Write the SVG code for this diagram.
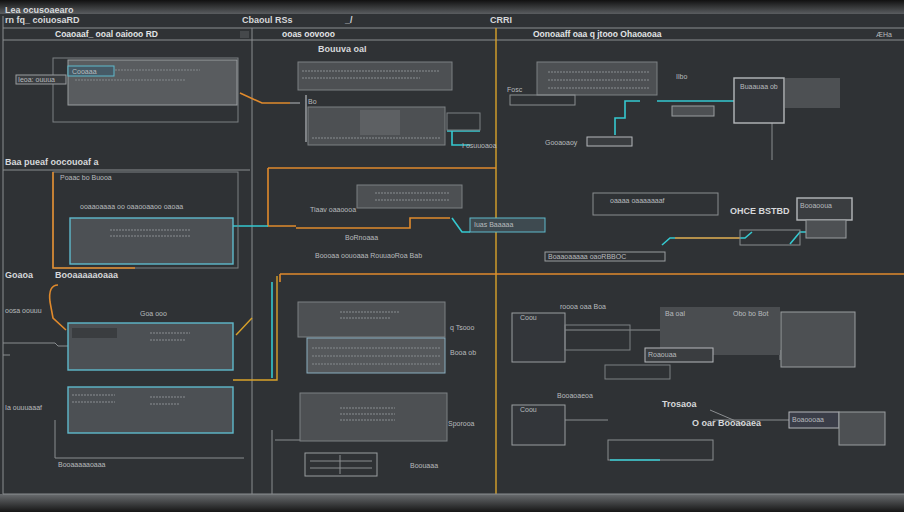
<svg xmlns="http://www.w3.org/2000/svg" width="904" height="512" viewBox="0 0 904 512">
<defs>
<style>
.bg{fill:#2f3235}
.ln{stroke:#8a8d90;stroke-width:1;fill:none}
.ln2{stroke:#b5b8bb;stroke-width:1.2;fill:none}
.fl{fill:#4d5053;stroke:#7d8083;stroke-width:1}
.fl2{fill:#595c5f;stroke:#9a9da0;stroke-width:1}
.cy{stroke:#35c9d0;stroke-width:1.6;fill:none}
.or{stroke:#e08a2c;stroke-width:1.6;fill:none}
.ye{stroke:#d9a22a;stroke-width:1.4;fill:none}
.cbox{fill:#4c5054;stroke:#5fb9cc;stroke-width:1.4}
.tx{stroke:#767a7e;stroke-width:1.5;stroke-dasharray:2 1;fill:none}
.t{font-family:"Liberation Sans",Arial,sans-serif;font-size:9px;fill:#d6d8da;font-weight:bold}
.ts{font-family:"Liberation Sans",Arial,sans-serif;font-size:7px;fill:#b8bbbe}
.th{font-family:"Liberation Sans",Arial,sans-serif;font-size:8.5px;fill:#e2e4e6;font-weight:bold}
</style>
<linearGradient id="g1" x1="0" x2="1" y1="0" y2="0">
<stop offset="0" stop-color="#e08a2c"/><stop offset="0.5" stop-color="#d9a22a"/><stop offset="0.8" stop-color="#3fb0c0"/><stop offset="1" stop-color="#35d0c8"/>
</linearGradient>
<linearGradient id="gt" x1="0" x2="0" y1="0" y2="1">
<stop offset="0" stop-color="#111"/><stop offset="1" stop-color="#5a5d60"/>
</linearGradient>
<linearGradient id="gb" x1="0" x2="0" y1="0" y2="1">
<stop offset="0" stop-color="#6a6d70"/><stop offset="1" stop-color="#161616"/>
</linearGradient>
</defs>
<rect class="bg" x="0" y="0" width="904" height="512"/>
<rect x="0" y="0" width="904" height="14" fill="url(#gt)"/>
<rect x="0" y="494" width="904" height="18" fill="url(#gb)"/>

<g id="frame">
<path class="ln" d="M3 16V494M252 28V494M3 28H904M3 40H904"/>
<path class="ye" d="M496 28V494"/>
<path class="ln" d="M3 170H250"/>
<path class="ln" d="M3 494H904"/>
<rect x="240" y="31" width="9" height="7" fill="#45484b"/>
<text class="t" x="5" y="13">Lea ocusoaearo</text>
<text class="t" x="5" y="23">rn fq_ coiuosaRD</text>
<text class="t" x="242" y="23">Cbaoul RSs</text>
<text class="t" x="345" y="23">_/</text>
<text class="t" x="490" y="23">CRRI</text>
<text class="th" x="55" y="37">Coaoaaf_ ooal oaiooo RD</text>
<text class="th" x="282" y="37">ooas oovooo</text>
<text class="th" x="533" y="37">Oonoaaff oaa q jtooo Ohaoaoaa</text>
<text class="ts" x="876" y="37">ÆHa</text>
</g>

<g id="connectors">
<path class="or" d="M240 93L262 103H290"/>
<path class="ln2" d="M290 103H300M306 95V142"/>
<path class="cy" d="M447 131H480M452 131V145H470"/>
<path class="cy" d="M657 101H734"/>
<path class="cy" d="M640 101H625V118H615V135"/>
<path class="ln" d="M772 123V160"/>
<path d="M270 163H904" stroke="url(#g1)" stroke-width="2" fill="none"/>
<path class="or" d="M268 168H496"/>
<path class="or" d="M268 168V226H296"/>
<path class="or" d="M296 228H410V218H450"/>
<path class="cy" d="M233 226H268"/>
<path class="cy" d="M452 218L462 232H470"/>
<path class="cy" d="M662 245L670 238H745L752 232"/>
<path class="or" d="M675 238H740"/>
<path class="cy" d="M790 244L800 232H815"/>
<path class="or" d="M280 274H904"/>
<path class="or" d="M280 274V282"/>
<path class="ye" d="M277 276V380H233"/>
<path class="cy" d="M272 282V378"/>
<path class="or" d="M58 285Q48 285 50 302L53 318L66 330"/>
<path class="ye" d="M236 335L252 318"/>
<path class="ln" d="M3 343H55L58 346H68M3 355H10"/>
<path class="ln" d="M55 420V458H244"/>
<path class="ln" d="M275 440H300M272 430V494"/>
<path class="ln" d="M377 340V338M308 333H445"/>
<path class="ln" d="M565 330H660M565 420H608M713 420H789M780 350V360"/>
<path class="ln" d="M710 410L745 425"/>
</g>

<g id="n1">
<rect x="53" y="58" width="185" height="64" fill="none" stroke="#7d8083"/>
<rect x="68" y="60" width="169" height="45" class="fl2"/>
<path class="tx" d="M115 70H200M75 80H185"/>
<rect x="68" y="66" width="46" height="10" fill="#465a66" stroke="#5fb9cc"/>
<text class="ts" x="72" y="74">Cooaaa</text>
<rect x="16" y="75" width="50" height="9" fill="#3a3d40" stroke="#9a9da0"/>
<text class="ts" x="18" y="82">Ieoa: ouuua</text>
</g>

<g id="n2">
<text class="t" x="318" y="52">Bouuva oaI</text>
<rect x="298" y="62" width="154" height="28" class="fl"/>
<path class="tx" d="M302 71H440M302 78H420"/>
<rect x="308" y="107" width="137" height="38" class="fl"/>
<rect x="360" y="110" width="40" height="25" fill="#5d6063"/>
<path class="tx" d="M312 138H440"/>
<rect x="447" y="113" width="33" height="17" fill="none" stroke="#7d8083"/>
<text class="ts" x="308" y="104">Bo</text>
<text class="ts" x="462" y="148">I osuuoaoa</text>
</g>

<g id="n3">
<rect x="537" y="62" width="120" height="33" class="fl"/>
<path class="tx" d="M548 72H650M548 80H650M548 88H650"/>
<rect x="510" y="95" width="65" height="10" fill="none" stroke="#8a8d90"/>
<text class="ts" x="507" y="92">Fosc</text>
<text class="ts" x="676" y="79">Ilbo</text>
<rect x="734" y="78" width="50" height="45" fill="#33363a" stroke="#b5b8bb" stroke-width="1.4"/>
<text class="ts" x="740" y="89">Buaauaa ob</text>
<rect x="785" y="78" width="55" height="30" fill="#4d5053"/>
<rect x="672" y="106" width="42" height="10" fill="#4d5053" stroke="#9a9da0"/>
<rect x="587" y="137" width="45" height="9" fill="#3a3d40" stroke="#b5b8bb"/>
<text class="ts" x="545" y="145">Gooaoaoy</text>
</g>

<g id="n4">
<text class="t" x="5" y="165">Baa pueaf oocouoaf a</text>
<rect x="53" y="172" width="185" height="96" fill="none" stroke="#7d8083"/>
<path class="or" d="M53 172V268H135"/>
<text class="ts" x="60" y="180">Poaac bo Buooa</text>
<text class="ts" x="80" y="209">ooaaoaaaa oo oaaooaaoo oaoaa</text>
<rect x="70" y="218" width="163" height="46" class="cbox"/>
<path class="tx" d="M110 230H190M110 236H190"/>
</g>

<g id="n5">
<rect x="357" y="185" width="105" height="23" class="fl"/>
<path class="tx" d="M375 193H450M375 200H450"/>
<text class="ts" x="310" y="212">Tiaav oaaoooa</text>
<text class="ts" x="345" y="240">BoRnoaaa</text>
<text class="ts" x="315" y="258">Boooaa oouoaaa RouuaoRoa Bab</text>
<rect x="470" y="218" width="75" height="14" fill="#3e4a50" stroke="#5fb9cc"/>
<text class="ts" x="474" y="227">Iuas Baaaaa</text>
</g>

<g id="n6">
<rect x="593" y="193" width="125" height="22" fill="none" stroke="#8a8d90"/>
<text class="ts" x="610" y="203">oaaaa oaaaaaaaf</text>
<text class="t" x="730" y="214">OHCE BSTBD</text>
<rect x="797" y="198" width="55" height="22" fill="#3a3d40" stroke="#b5b8bb" stroke-width="1.4"/>
<text class="ts" x="800" y="208">Booaooua</text>
<rect x="806" y="220" width="40" height="18" fill="#4d5053" stroke="#9a9da0"/>
<rect x="545" y="252" width="120" height="9" fill="none" stroke="#9a9da0"/>
<text class="ts" x="548" y="259">Boaaoaaaaa oaoRBBOC</text>
<rect x="740" y="230" width="60" height="15" fill="none" stroke="#8a8d90"/>
</g>

<g id="n7">
<text class="t" x="5" y="278">Goaoa</text>
<text class="t" x="55" y="278">Booaaaaaoaaa</text>
<text class="ts" x="5" y="313">oosa oouuu</text>
<text class="ts" x="140" y="316">Goa ooo</text>
<rect x="68" y="323" width="165" height="47" class="cbox"/>
<rect x="72" y="328" width="45" height="10" fill="#3a3d40"/>
<path class="tx" d="M150 333H190M150 340H185"/>
<rect x="68" y="387" width="165" height="46" class="cbox"/>
<path class="tx" d="M72 395H115M150 397H185M72 402H115M150 404H180"/>
<text class="ts" x="5" y="410">Ia  ouuuaaaf</text>
<text class="ts" x="58" y="467">Booaaaaaoaaa</text>
</g>

<g id="n8">
<rect x="298" y="302" width="147" height="35" class="fl"/>
<path class="tx" d="M340 312H400M340 318H390"/>
<text class="ts" x="450" y="330">q Tsooo</text>
<rect x="307" y="338" width="138" height="35" fill="#55585b" stroke="#8aaec0"/>
<path class="tx" d="M312 348H440M312 356H440M312 364H440"/>
<text class="ts" x="450" y="355">Booa ob</text>
<rect x="300" y="393" width="147" height="48" class="fl"/>
<path class="tx" d="M340 408H395M340 414H395M340 420H395"/>
<text class="ts" x="448" y="426">Sporooa</text>
<rect x="305" y="453" width="72" height="23" fill="none" stroke="#9a9da0"/>
<path class="ln" d="M310 461H372M310 468H372M340 455V474"/>
<text class="ts" x="410" y="468">Boouaaa</text>
</g>

<g id="n9">
<rect x="512" y="313" width="53" height="49" fill="#33363a" stroke="#9a9da0"/>
<text class="ts" x="520" y="320">Coou</text>
<text class="ts" x="560" y="309">roooa oaa Boa</text>
<rect x="565" y="325" width="65" height="25" fill="none" stroke="#7d8083"/>
<rect x="660" y="307" width="120" height="48" fill="#4a4d50"/>
<text class="ts" x="665" y="316">Ba oaI</text>
<text class="ts" x="733" y="316">Obo bo Bot</text>
<rect x="645" y="348" width="68" height="14" fill="#3a3d40" stroke="#b5b8bb"/>
<text class="ts" x="648" y="357">Roaouaa</text>
<rect x="781" y="312" width="74" height="55" fill="#4d5053" stroke="#9a9da0"/>
<rect x="605" y="365" width="65" height="14" fill="none" stroke="#7d8083"/>
</g>

<g id="n10">
<text class="ts" x="557" y="398">Booaoaeoa</text>
<rect x="512" y="405" width="53" height="40" fill="#33363a" stroke="#9a9da0"/>
<text class="ts" x="520" y="412">Coou</text>
<text class="t" x="662" y="407">Trosaoa</text>
<text class="t" x="692" y="426">O oar Booaoaea</text>
<rect x="608" y="440" width="105" height="20" fill="none" stroke="#8a8d90"/>
<path class="cy" d="M610 460H660" stroke-width="1"/>
<rect x="789" y="412" width="50" height="16" fill="#3a3d48" stroke="#b5b8bb"/>
<text class="ts" x="792" y="422">Boaoooaa</text>
<rect x="839" y="412" width="46" height="33" fill="#4d5053" stroke="#9a9da0"/>
</g>
</svg>
